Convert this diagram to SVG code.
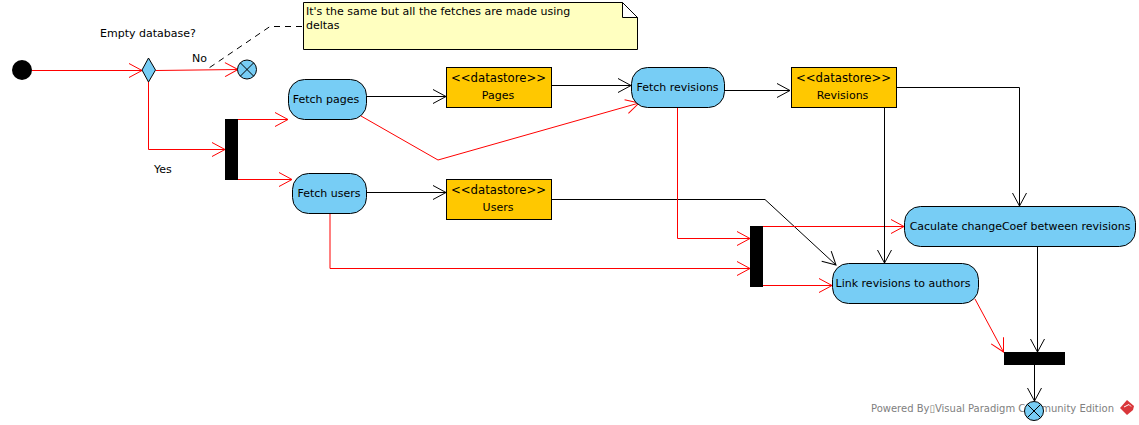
<svg xmlns="http://www.w3.org/2000/svg" width="1139" height="425" viewBox="0 0 1139 425">
<style>
text{font-family:"DejaVu Sans",sans-serif;font-size:11px;fill:#000}
.m{text-anchor:middle}
.s{font-size:11.7px}
.a{fill:#77cdf5;stroke:#000;stroke-width:1}
.d{fill:#ffc800;stroke:#000;stroke-width:1}
.b{fill:#000}
.r,.k{fill:none;stroke-width:1}
.r{stroke:#f00}
.k{stroke:#000}
</style>
<defs>
<marker id="ar" markerUnits="userSpaceOnUse" markerWidth="16" markerHeight="16" refX="13" refY="7" orient="auto" overflow="visible"><path d="M0 0L13 7L0 14" fill="none" stroke="#f00"/></marker>
<marker id="ak" markerUnits="userSpaceOnUse" markerWidth="16" markerHeight="16" refX="13" refY="7" orient="auto" overflow="visible"><path d="M0 0L13 7L0 14" fill="none" stroke="#000"/></marker>
</defs>
<g id="connectors">
<path class="r" marker-end="url(#ar)" d="M32 70.500H142"/>
<path class="r" marker-end="url(#ar)" d="M156 70.500L238 69.500"/>
<path class="r" marker-end="url(#ar)" d="M148.500 82V149.500H225"/>
<path class="r" marker-end="url(#ar)" d="M238 119.500H288"/>
<path class="r" marker-end="url(#ar)" d="M238 179.500H292"/>
<path class="k" marker-end="url(#ak)" d="M366 96.500H446"/>
<path class="k" marker-end="url(#ak)" d="M366 192.500H446"/>
<path class="k" marker-end="url(#ak)" d="M552 85.500H631"/>
<path class="k" marker-end="url(#ak)" d="M724 90.500H790"/>
<path class="r" marker-end="url(#ar)" d="M361 116L438 160L639 103"/>
<path class="k" marker-end="url(#ak)" d="M552 199.500H765L836 265"/>
<path class="r" marker-end="url(#ar)" d="M677.500 108V238.500H750"/>
<path class="r" marker-end="url(#ar)" d="M330 213V268.500H750"/>
<path class="r" marker-end="url(#ar)" d="M763 226.500H904"/>
<path class="r" marker-end="url(#ar)" d="M763 285.500H832"/>
<path class="k" marker-end="url(#ak)" d="M884.500 108V263"/>
<path class="k" marker-end="url(#ak)" d="M896 87.500H1019.500V206"/>
<path class="k" marker-end="url(#ak)" d="M1037.500 247V352"/>
<path class="r" marker-end="url(#ar)" d="M975 299L1003.500 352"/>
<path class="k" marker-end="url(#ak)" d="M1034.500 365V401"/>
<path class="k" stroke-dasharray="6 5" d="M302 26.500H270L206 70"/>
</g>
<g id="watermark">
<text x="871" y="412" style="fill:#808080;font-size:10px">Powered By▯Visual Paradigm Community Edition</text>
<path d="M1127 400L1134 406L1133 410L1127 415L1120 408Z" fill="#d9363a"/>
<path d="M1124 407L1129 404.500L1131 406.500" stroke="#fff" fill="none"/>
</g>
<g id="start"><circle class="b" cx="22" cy="70" r="10"/></g>
<g id="decision"><path class="a" d="M148.500 58L155.500 70L148.500 82L142 70Z"/>
<text class="m" x="148" y="37">Empty database?</text>
<text x="192" y="62">No</text>
<text x="154" y="173">Yes</text></g>
<g id="end1"><circle class="a" cx="247" cy="69.500" r="9.500"/><path class="k" d="M240.300 62.800L253.700 76.200M253.700 62.800L240.300 76.200"/></g>
<g id="fork1"><rect class="b" x="225" y="119" width="13" height="61"/></g>
<g id="note"><path d="M303.500 2.500H622.500L637.500 17.500V49.500H303.500Z" fill="#ffffc0" stroke="#000"/><path d="M622.500 2.500V17.500H637.500Z" fill="#fff" stroke="#000"/>
<text x="306" y="15">It's the same but all the fetches are made using</text>
<text x="306" y="29">deltas</text></g>
<g id="fetch-pages"><rect class="a" x="288.500" y="79.500" width="78" height="40" rx="16"/><text class="m" x="326" y="103">Fetch pages</text></g>
<g id="fetch-users"><rect class="a" x="292.500" y="173.500" width="74" height="40" rx="16"/><text class="m" x="329" y="197">Fetch users</text></g>
<g id="pages"><rect class="d" x="446.500" y="67.500" width="105" height="40"/><text class="m s" x="498.500" y="82">&lt;&lt;datastore&gt;&gt;</text><text class="m" x="498" y="99">Pages</text></g>
<g id="users"><rect class="d" x="446.500" y="179.500" width="105" height="40"/><text class="m s" x="498.500" y="194">&lt;&lt;datastore&gt;&gt;</text><text class="m" x="498" y="211">Users</text></g>
<g id="fetch-revisions"><rect class="a" x="631.500" y="67.500" width="93" height="40" rx="16"/><text class="m" x="677.500" y="91">Fetch revisions</text></g>
<g id="revisions"><rect class="d" x="791.500" y="67.500" width="105" height="40"/><text class="m s" x="843.500" y="82">&lt;&lt;datastore&gt;&gt;</text><text class="m" x="842.500" y="99">Revisions</text></g>
<g id="fork2"><rect class="b" x="750" y="226" width="13" height="61"/></g>
<g id="calc"><rect class="a" x="904.500" y="206.500" width="231" height="40" rx="16"/><text class="m" x="1020" y="230">Caculate changeCoef between revisions</text></g>
<g id="link"><rect class="a" x="832.500" y="263.500" width="146" height="40" rx="16"/><text class="m" x="903" y="287">Link revisions to authors</text></g>
<g id="join"><rect class="b" x="1004" y="352" width="61" height="13"/></g>
<g id="end2"><circle class="a" cx="1034" cy="411" r="9.500"/><path class="k" d="M1027.300 404.300L1040.700 417.700M1040.700 404.300L1027.300 417.700"/></g>
</svg>
